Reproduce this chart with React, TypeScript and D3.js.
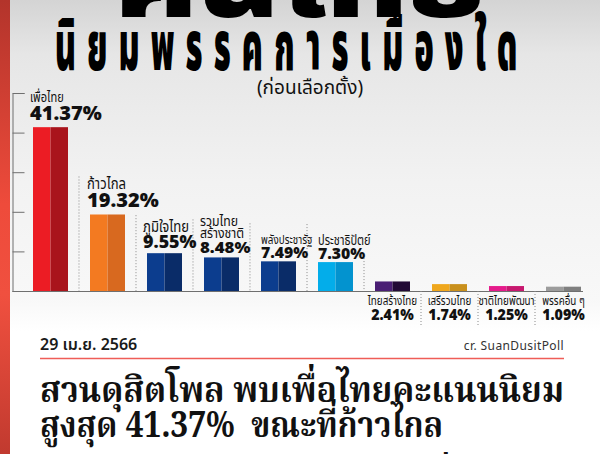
import React, { useEffect, useRef } from "react";
import * as d3 from "d3";

// ---- data ----
const parties: string[] = [
  "เพื่อไทย",
  "ก้าวไกล",
  "ภูมิใจไทย",
  "รวมไทย\nสร้างชาติ",
  "พลังประชารัฐ",
  "ประชาธิปัตย์",
  "ไทยสร้างไทย",
  "เสรีรวมไทย",
  "ชาติไทยพัฒนา",
  "พรรคอื่น ๆ",
];
const values: number[] = [41.37, 19.32, 9.55, 8.48, 7.49, 7.3, 2.41, 1.74, 1.25, 1.09];
const lightColors: string[] = ["#ec1c24", "#f37a21", "#0c3d8e", "#0c3d8e", "#0c3d8e", "#03adea", "#4a1e74", "#efa71d", "#e51b8b", "#9c9c9c"];
const darkColors: string[] = ["#a9141c", "#d8691f", "#0a2c68", "#0a2c68", "#0a2c68", "#0393cf", "#220a35", "#c9901c", "#c7186f", "#7f7f7f"];
const yTicks: number[] = [0, 10, 20, 30, 40, 50];

const titleTop = "คนไทย";
const titleMain = "นิยมพรรคการเมืองใด";
const subTitle = "(ก่อนเลือกตั้ง)";
const dateText = "29 เม.ย. 2566";
const creditText = "cr. SuanDusitPoll";
const headline: string[] = [
  "สวนดุสิตโพล พบเพื่อไทยคะแนนนิยม",
  "สูงสุด 41.37%  ขณะที่ก้าวไกล",
  "ได้รับความนิยมเป็นอันดับสองที่ 19.32%",
];

const W = 600;
const H = 454;
const SANS = "'Noto Sans Thai', 'Noto Sans', Roboto, sans-serif";
const NUM = "'Open Sans', 'Noto Sans', sans-serif";
const SERIF = "'Noto Serif Thai', 'Noto Serif', 'Liberation Serif', serif";

export default function App() {
  const axisRef = useRef<SVGGElement>(null);

  const y = d3.scaleLinear().domain([0, 50]).range([291, 93]);
  const x = d3.scaleBand<string>().domain(parties).range([33, 581]).paddingInner(0.386).paddingOuter(0);
  const bw = x.bandwidth();
  const base = y(0);

  useEffect(() => {
    if (!axisRef.current) return;
    const g = d3.select(axisRef.current);
    g.selectAll("*").remove();
    g.call(
      d3.axisRight(y).tickValues(yTicks).tickSize(12).tickSizeOuter(12).tickFormat(() => "") as any
    );
    g.selectAll("path, line").attr("stroke", "#6f6f6f").attr("stroke-width", 1);
    g.selectAll("text").remove();
  }, []);

  const valueFont = [19, 19, 17, 16, 15, 15];
  const nameFont = [13.5, 16, 16, 15, 12, 13.5];
  const labelShift = [-3, -3, -4, -4, 0, 0];
  const condense = 0.82;

  // separators between bands
  const seps = parties.slice(0, -1).map((p, i) => {
    const right = (x(p) as number) + bw;
    const left = x(parties[i + 1]) as number;
    const sx = (right + left) / 2;
    let y1: number, y2: number;
    if (i < 5) {
      y1 = y(values[i + 1]) - 38;
      y2 = base;
    } else if (i === 5) {
      y1 = y(values[i]) - 4;
      y2 = base;
    } else {
      y1 = base;
      y2 = base + 36;
    }
    return { sx, y1, y2 };
  });

  return (
    <svg width={W} height={H} style={{ position: "absolute", left: 0, top: 0, display: "block" }}>
      <defs>
        <linearGradient id="bg" x1="0" y1="0" x2="0" y2="1">
          <stop offset="0" stopColor="#d4d4d4" />
          <stop offset="0.12" stopColor="#e6e6e6" />
          <stop offset="0.4" stopColor="#f2f2f2" />
          <stop offset="0.66" stopColor="#f8f8f8" />
          <stop offset="0.73" stopColor="#ffffff" />
          <stop offset="1" stopColor="#ffffff" />
        </linearGradient>
        <linearGradient id="strip" x1="0" y1="0" x2="0" y2="1">
          <stop offset="0" stopColor="#b3342b" />
          <stop offset="0.45" stopColor="#ee4b3b" />
          <stop offset="0.65" stopColor="#f0503f" />
          <stop offset="1" stopColor="#c13a2f" />
        </linearGradient>
      </defs>
      <rect x={0} y={0} width={W} height={H} fill="url(#bg)" />
      <rect x={0} y={0} width={10} height={H} fill="url(#strip)" />

      {/* Titles */}
      <g transform="translate(115,17) scale(1,1.2)">
        <text
          x={0}
          y={0}
          fontFamily={SANS}
          fontWeight={900}
          fontSize={80}
          fill="#000"
          textLength={372}
          lengthAdjust="spacingAndGlyphs"
        >
          {titleTop}
        </text>
      </g>
      <g transform="translate(55,70) scale(0.72,1.55)">
        <text
          x={0}
          y={0}
          fontFamily={SANS}
          fontWeight={900}
          fontSize={44}
          fill="#000"
          letterSpacing={15.5}
        >
          {titleMain}
        </text>
      </g>
      <text x={310} y={94} textAnchor="middle" fontFamily={SANS} fontSize={19} fill="#111">
        {subTitle}
      </text>

      {/* axis */}
      <g ref={axisRef} transform="translate(12.5,0)" />
      <line x1={12.5} x2={583} y1={base + 0.5} y2={base + 0.5} stroke="#6f6f6f" strokeWidth={1} />

      {/* separators */}
      {seps.map((s, i) => (
        <line key={"s" + i} x1={s.sx} x2={s.sx} y1={s.y1} y2={s.y2} stroke="#8a8a8a" strokeWidth={1} strokeDasharray="1,2" />
      ))}

      {/* bars */}
      {parties.map((p, i) => {
        const bx = x(p) as number;
        const top = y(values[i]);
        return (
          <g key={p}>
            <rect x={bx} y={top} width={bw / 2} height={base - top} fill={lightColors[i]} />
            <rect x={bx + bw / 2} y={top} width={bw / 2} height={base - top} fill={darkColors[i]} />
          </g>
        );
      })}

      {/* labels */}
      {parties.map((p, i) => {
        const bx = x(p) as number;
        const top = y(values[i]);
        const valStr = values[i].toFixed(2) + "%";
        const lines = p.split("\n");
        if (i < 6) {
          const vf = valueFont[i];
          const nf = nameFont[i];
          const vb = top - Math.max(vf - 12, 2);
          const nb = vb - (vf - 1);
          const lx = bx + labelShift[i];
          return (
            <g key={"l" + p}>
              <text
                x={lx}
                y={vb}
                fontFamily={NUM}
                fontWeight={800}
                fontSize={vf}
                fill="#111"
                textLength={vf * 0.63 * valStr.length}
                lengthAdjust="spacingAndGlyphs"
              >
                {valStr}
              </text>
              {lines.map((ln, k) => (
                <g key={k} transform={`translate(${lx},${nb - (lines.length - 1 - k) * 12.5}) scale(${condense},1)`}>
                  <text x={0} y={0} fontFamily={SANS} fontSize={nf} fill="#111">
                    {ln}
                  </text>
                </g>
              ))}
            </g>
          );
        }
        const cx = bx + bw / 2;
        return (
          <g key={"l" + p}>
            <g transform={`translate(${cx},${base + 14}) scale(${condense},1)`}>
              <text x={0} y={0} textAnchor="middle" fontFamily={SANS} fontSize={12} fill="#111">
                {p}
              </text>
            </g>
            <text
              x={cx}
              y={base + 29}
              textAnchor="middle"
              fontFamily={NUM}
              fontWeight={800}
              fontSize={15}
              fill="#111"
              textLength={15 * 0.57 * valStr.length}
              lengthAdjust="spacingAndGlyphs"
            >
              {valStr}
            </text>
          </g>
        );
      })}

      {/* bottom */}
      <text x={40} y={350} fontFamily={SANS} fontWeight={600} fontSize={16} fill="#1a1a1a">
        {dateText}
      </text>
      <text x={564} y={350} textAnchor="end" fontFamily={SANS} fontSize={12} fill="#333" letterSpacing={0.4}>
        {creditText}
      </text>
      <line x1={40} x2={564} y1={358.5} y2={358.5} stroke="#ef5d57" strokeWidth={1.5} />
      <text x={40} y={402} fontFamily={SERIF} fontWeight={700} fontSize={36} fill="#111" textLength={524} lengthAdjust="spacingAndGlyphs">
        {headline[0]}
      </text>
      <text x={40} y={437} fontFamily={SERIF} fontWeight={700} fontSize={36} fill="#111" textLength={403} lengthAdjust="spacingAndGlyphs" style={{ whiteSpace: "pre" }}>
        {headline[1]}
      </text>
      <text x={40} y={490} fontFamily={SERIF} fontWeight={700} fontSize={36} fill="#111" textLength={524} lengthAdjust="spacingAndGlyphs">
        {headline[2]}
      </text>
    </svg>
  );
}
